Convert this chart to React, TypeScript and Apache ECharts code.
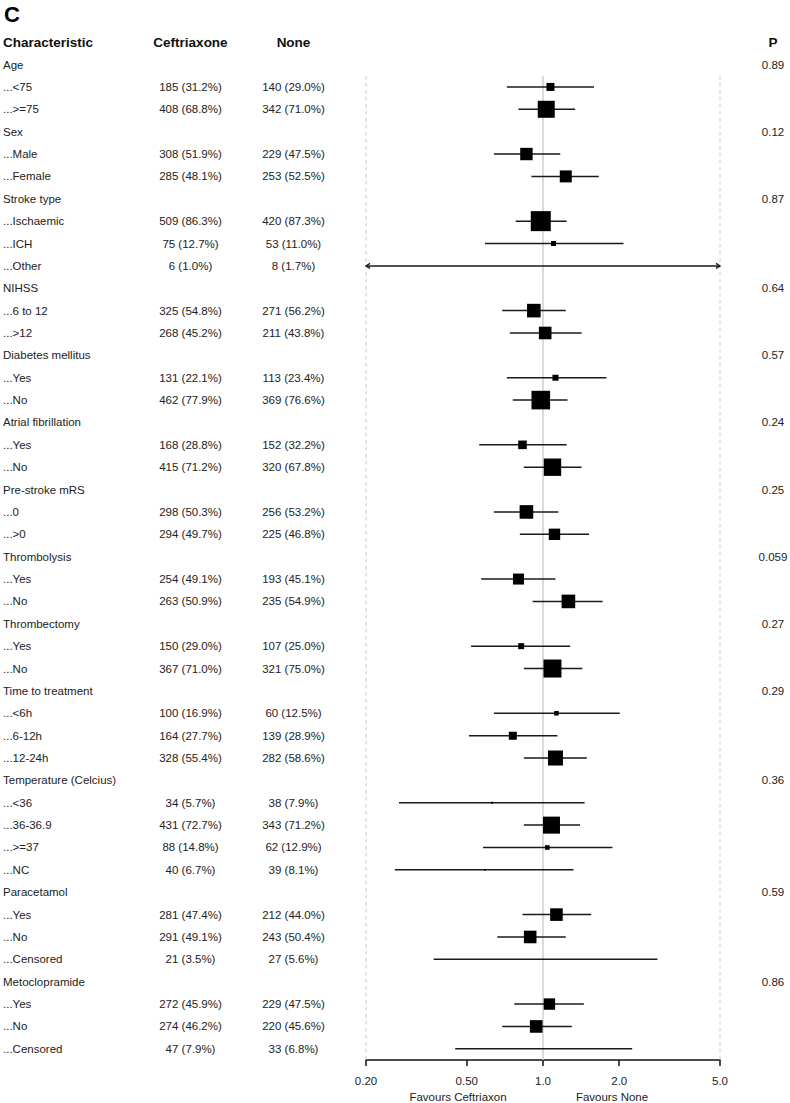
import React, { useEffect, useRef } from "react";
import * as echarts from "echarts";

const FONT = '"Liberation Sans", Arial, Helvetica, sans-serif';

const panelLabel = "C";
const columnHeaders = ["Characteristic", "Ceftriaxone", "None", "P"];
const favourLabels = ["Favours Ceftriaxon", "Favours None"];

const characteristics = [
  "Age", "...<75", "...>=75",
  "Sex", "...Male", "...Female",
  "Stroke type", "...Ischaemic", "...ICH", "...Other",
  "NIHSS", "...6 to 12", "...>12",
  "Diabetes mellitus", "...Yes", "...No",
  "Atrial fibrillation", "...Yes", "...No",
  "Pre-stroke mRS", "...0", "...>0",
  "Thrombolysis", "...Yes", "...No",
  "Thrombectomy", "...Yes", "...No",
  "Time to treatment", "...<6h", "...6-12h", "...12-24h",
  "Temperature (Celcius)", "...<36", "...36-36.9", "...>=37", "...NC",
  "Paracetamol", "...Yes", "...No", "...Censored",
  "Metoclopramide", "...Yes", "...No", "...Censored",
];

const ceftriaxone = [
  "", "185 (31.2%)", "408 (68.8%)",
  "", "308 (51.9%)", "285 (48.1%)",
  "", "509 (86.3%)", "75 (12.7%)", "6 (1.0%)",
  "", "325 (54.8%)", "268 (45.2%)",
  "", "131 (22.1%)", "462 (77.9%)",
  "", "168 (28.8%)", "415 (71.2%)",
  "", "298 (50.3%)", "294 (49.7%)",
  "", "254 (49.1%)", "263 (50.9%)",
  "", "150 (29.0%)", "367 (71.0%)",
  "", "100 (16.9%)", "164 (27.7%)", "328 (55.4%)",
  "", "34 (5.7%)", "431 (72.7%)", "88 (14.8%)", "40 (6.7%)",
  "", "281 (47.4%)", "291 (49.1%)", "21 (3.5%)",
  "", "272 (45.9%)", "274 (46.2%)", "47 (7.9%)",
];

const none = [
  "", "140 (29.0%)", "342 (71.0%)",
  "", "229 (47.5%)", "253 (52.5%)",
  "", "420 (87.3%)", "53 (11.0%)", "8 (1.7%)",
  "", "271 (56.2%)", "211 (43.8%)",
  "", "113 (23.4%)", "369 (76.6%)",
  "", "152 (32.2%)", "320 (67.8%)",
  "", "256 (53.2%)", "225 (46.8%)",
  "", "193 (45.1%)", "235 (54.9%)",
  "", "107 (25.0%)", "321 (75.0%)",
  "", "60 (12.5%)", "139 (28.9%)", "282 (58.6%)",
  "", "38 (7.9%)", "343 (71.2%)", "62 (12.9%)", "39 (8.1%)",
  "", "212 (44.0%)", "243 (50.4%)", "27 (5.6%)",
  "", "229 (47.5%)", "220 (45.6%)", "33 (6.8%)",
];

const pValues = [
  "0.89", "", "",
  "0.12", "", "",
  "0.87", "", "", "",
  "0.64", "", "",
  "0.57", "", "",
  "0.24", "", "",
  "0.25", "", "",
  "0.059", "", "",
  "0.27", "", "",
  "0.29", "", "", "",
  "0.36", "", "", "", "",
  "0.59", "", "", "",
  "0.86", "", "", "",
];

const N = null;
const estimate = [
  N, 1.07, 1.03,
  N, 0.86, 1.23,
  N, 0.98, 1.10, N,
  N, 0.92, 1.02,
  N, 1.12, 0.98,
  N, 0.83, 1.09,
  N, 0.86, 1.11,
  N, 0.80, 1.26,
  N, 0.82, 1.09,
  N, 1.13, 0.76, 1.12,
  N, 0.63, 1.08, 1.04, 0.59,
  N, 1.13, 0.89, 1.03,
  N, 1.06, 0.94, 1.01,
];
const lower = [
  N, 0.72, 0.80,
  N, 0.64, 0.90,
  N, 0.78, 0.59, 0.10,
  N, 0.69, 0.74,
  N, 0.72, 0.76,
  N, 0.56, 0.84,
  N, 0.64, 0.81,
  N, 0.57, 0.91,
  N, 0.52, 0.84,
  N, 0.64, 0.51, 0.84,
  N, 0.27, 0.84, 0.58, 0.26,
  N, 0.83, 0.66, 0.37,
  N, 0.77, 0.69, 0.45,
];
const upper = [
  N, 1.59, 1.34,
  N, 1.17, 1.66,
  N, 1.24, 2.08, 10.0,
  N, 1.23, 1.42,
  N, 1.78, 1.25,
  N, 1.24, 1.42,
  N, 1.15, 1.52,
  N, 1.12, 1.72,
  N, 1.28, 1.43,
  N, 2.01, 1.14, 1.49,
  N, 1.46, 1.40, 1.88, 1.32,
  N, 1.55, 1.23, 2.83,
  N, 1.45, 1.30, 2.25,
];
// relative box weight (1 = largest box)
const boxWeight = [
  0, 0.40, 0.85,
  0, 0.62, 0.60,
  0, 1.00, 0.25, 0,
  0, 0.68, 0.63,
  0, 0.30, 0.93,
  0, 0.43, 0.87,
  0, 0.68, 0.57,
  0, 0.55, 0.68,
  0, 0.30, 0.90,
  0, 0.23, 0.40, 0.75,
  0, 0.10, 0.85, 0.23, 0.08,
  0, 0.63, 0.63, 0,
  0, 0.57, 0.63, 0,
];

const axisMin = 0.2;
const axisMax = 5;
const tickValues = [0.2, 0.5, 1, 2, 5];
const tickLabels = ["0.20", "0.50", "1.0", "2.0", "5.0"];
const refLines = [0.2, 1, 5];

const L = Math.log10;

// layout
const GRID_LEFT = 366;
const GRID_WIDTH = 354;
const GRID_TOP = 31;
const GRID_HEIGHT = 1029;
const Y_MIN = -1.5;
const Y_MAX = 44.5;
const MAX_BOX = 20;
const COL_X = [3, 190.5, 293.5, 773];

function buildOption() {
  const xMin = L(axisMin);
  const xMax = L(axisMax);

  const forestData: number[][] = [];
  for (let i = 0; i < characteristics.length; i++) {
    if (lower[i] != null && upper[i] != null) {
      forestData.push([L(lower[i] as number), L(upper[i] as number), i]);
    }
  }

  const textData = [[xMin, -1]].concat(characteristics.map((_, i) => [xMin, i]));

  const bodyFont = { fontSize: 11.5, fontFamily: FONT, fill: "#222" };

  return {
    animation: false,
    backgroundColor: "#ffffff",
    grid: { left: GRID_LEFT, top: GRID_TOP, width: GRID_WIDTH, height: GRID_HEIGHT, containLabel: false },
    xAxis: {
      type: "value",
      min: xMin,
      max: xMax,
      axisLine: { show: true, onZero: false, lineStyle: { color: "#111", width: 1.5 } },
      axisTick: {
        show: true,
        customValues: tickValues.map(L),
        length: 6,
        lineStyle: { color: "#111", width: 1.5 },
      },
      axisLabel: {
        customValues: tickValues.map(L),
        margin: 15,
        fontSize: 11.5,
        fontFamily: FONT,
        color: "#222",
        formatter: (v: number) => {
          const k = tickValues.findIndex((t) => Math.abs(L(t) - v) < 1e-6);
          return k >= 0 ? tickLabels[k] : "";
        },
      },
      splitLine: { show: false },
    },
    yAxis: { type: "value", min: Y_MIN, max: Y_MAX, inverse: true, show: false },
    series: [
      {
        type: "custom",
        silent: true,
        z: 1,
        data: refLines.map((v) => [L(v), 0.5, 44.5]),
        encode: { x: 0, y: [1, 2] },
        renderItem: (params: any, api: any) => {
          const v = api.value(0);
          const p1 = api.coord([v, api.value(1)]);
          const p2 = api.coord([v, api.value(2)]);
          const isRef = Math.abs(v) < 1e-9;
          return {
            type: "line",
            shape: { x1: p1[0], y1: p1[1], x2: p2[0], y2: p2[1] },
            style: isRef
              ? { stroke: "#cfcfcf", lineWidth: 1.5 }
              : { stroke: "#cccccc", lineWidth: 1, lineDash: [4, 3] },
          };
        },
      },
      {
        type: "custom",
        silent: true,
        z: 3,
        data: forestData,
        encode: { x: [0, 1], y: 2 },
        renderItem: (params: any, api: any) => {
          const loV = api.value(0);
          const hiV = api.value(1);
          const row = api.value(2);
          const loC = Math.max(loV, xMin);
          const hiC = Math.min(hiV, xMax);
          const p1 = api.coord([loC, row]);
          const p2 = api.coord([hiC, row]);
          const children: any[] = [
            {
              type: "line",
              shape: { x1: p1[0], y1: p1[1], x2: p2[0], y2: p2[1] },
              style: { stroke: "#1a1a1a", lineWidth: 1.5 },
            },
          ];
          if (loV < xMin) {
            children.push({
              type: "polyline",
              shape: { points: [[p1[0] + 4, p1[1] - 2.5], [p1[0], p1[1]], [p1[0] + 4, p1[1] + 2.5]] },
              style: { stroke: "#1a1a1a", lineWidth: 1.3, fill: null },
            });
          }
          if (hiV > xMax) {
            children.push({
              type: "polyline",
              shape: { points: [[p2[0] - 4, p2[1] - 2.5], [p2[0], p2[1]], [p2[0] - 4, p2[1] + 2.5]] },
              style: { stroke: "#1a1a1a", lineWidth: 1.3, fill: null },
            });
          }
          const est = estimate[row];
          const w = boxWeight[row];
          if (est != null && w > 0) {
            const c = api.coord([L(est), row]);
            const s = Math.max(1.5, w * MAX_BOX);
            children.push({
              type: "rect",
              shape: { x: c[0] - s / 2, y: c[1] - s / 2, width: s, height: s },
              style: { fill: "#000" },
            });
          }
          return { type: "group", children };
        },
      },
      {
        type: "custom",
        silent: true,
        z: 4,
        clip: false,
        data: textData,
        encode: { x: 0, y: 1 },
        renderItem: (params: any, api: any) => {
          const row = api.value(1);
          const y = api.coord([api.value(0), row])[1];
          if (row < 0) {
            const head = { fontSize: 13.5, fontWeight: "bold", fontFamily: FONT, fill: "#111" };
            return {
              type: "group",
              children: columnHeaders.map((t, k) => ({
                type: "text",
                x: COL_X[k],
                y,
                style: { ...head, text: t, align: k === 0 ? "left" : "center", verticalAlign: "middle" },
              })),
            };
          }
          const vals = [characteristics[row], ceftriaxone[row], none[row], pValues[row]];
          return {
            type: "group",
            children: vals
              .map((t, k) => ({ t, k }))
              .filter((o) => o.t !== "")
              .map(({ t, k }) => ({
                type: "text",
                x: COL_X[k],
                y,
                style: { ...bodyFont, text: t, align: k === 0 ? "left" : "center", verticalAlign: "middle" },
              })),
          };
        },
      },
    ],
    graphic: [
      {
        type: "text",
        left: 4,
        top: 3,
        style: { text: panelLabel, fontSize: 22, fontWeight: "bold", fontFamily: FONT, fill: "#000" },
      },
      {
        type: "text",
        x: 458,
        y: 1097,
        style: { text: favourLabels[0], fontSize: 11.5, fontFamily: FONT, fill: "#222", align: "center", verticalAlign: "middle" },
      },
      {
        type: "text",
        x: 612,
        y: 1097,
        style: { text: favourLabels[1], fontSize: 11.5, fontFamily: FONT, fill: "#222", align: "center", verticalAlign: "middle" },
      },
    ],
  };
}

export default function App() {
  const ref = useRef<HTMLDivElement>(null);
  useEffect(() => {
    document.body.style.margin = "0";
    const chart = echarts.init(ref.current as HTMLDivElement, null, { renderer: "svg" });
    chart.setOption(buildOption() as any);
    return () => chart.dispose();
  }, []);
  return (
    <div
      ref={ref}
      style={{ position: "absolute", left: 0, top: 0, width: 790, height: 1103, background: "#fff" }}
    />
  );
}
